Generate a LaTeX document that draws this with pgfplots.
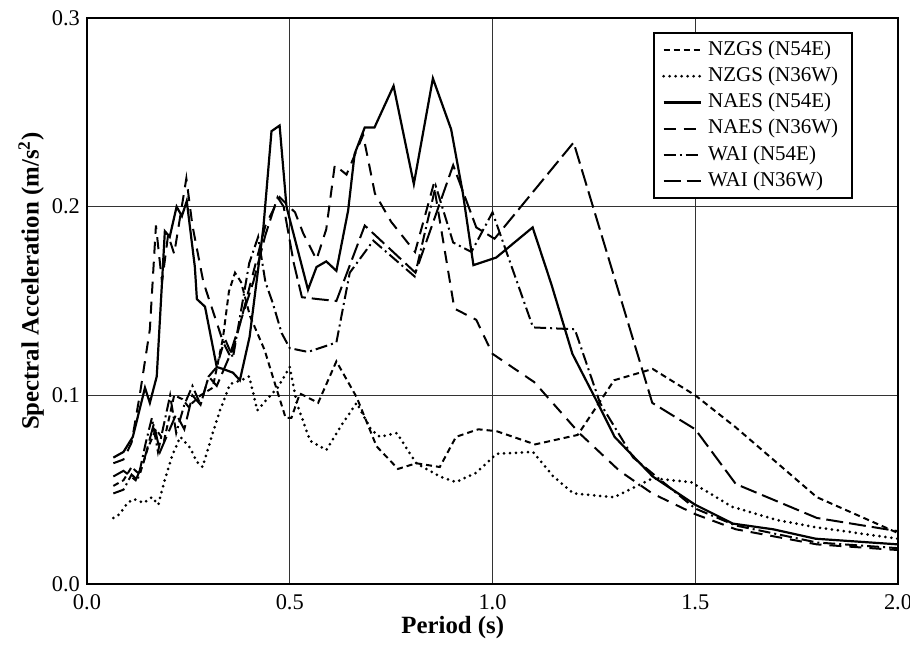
\documentclass[border=0pt]{standalone}
\usepackage{fontspec}
\setmainfont{Liberation Serif}
\usepackage{pgfplots}
\pgfplotsset{compat=1.18}

\pgfplotsset{
  nzgsA/.style={black, line width=1pt, dash pattern=on 3pt off 2pt},
  nzgsB/.style={black, line width=1.5pt, line cap=round, dash pattern=on 0pt off 3pt},
  naesA/.style={black, line width=1.1pt},
  naesB/.style={black, line width=1pt, dash pattern=on 6pt off 4pt},
  waiA/.style={black, line width=1pt, dash pattern=on 6pt off 2pt on 1pt off 2pt},
  waiB/.style={black, line width=1pt, dash pattern=on 8.5pt off 3pt},
}

\begin{document}
\begin{tikzpicture}[x=1pt,y=1pt]
\useasboundingbox (-43.5,-32.5) rectangle (411.5,292);
\begin{axis}[
  at={(0pt,0pt)}, anchor=south west,
  scale only axis, width=405.5pt, height=283pt,
  xmin=0, xmax=2, ymin=0, ymax=0.3,
  xtick={0,0.5,1,1.5,2}, ytick={0,0.1,0.2,0.3},
  scaled ticks=false,
  grid=major,
  major grid style={black!80, line width=0.5pt},
  axis line style={line width=1.1pt},
  major tick length=0pt,
  tick label style={font=\fontsize{11.2}{13}\selectfont},
  /pgf/number format/assume math mode=true,
  xticklabel style={/pgf/number format/fixed, /pgf/number format/fixed zerofill, /pgf/number format/precision=1, yshift=-2pt},
  yticklabel style={/pgf/number format/fixed, /pgf/number format/fixed zerofill, /pgf/number format/precision=1},
  xlabel={\textbf{Period (s)}},
  ylabel={\textbf{Spectral Acceleration (m/s\textsuperscript{2})}},
  label style={font=\fontsize{12.4}{14}\selectfont},
  xlabel style={at={(axis description cs:0.451,-0.0765)}, anchor=center},
  ylabel style={at={(axis description cs:-0.069,0.535)}, anchor=center},
  legend style={at={(axis description cs:0.9445,0.975)}, anchor=north east,
    draw=black, line width=0.8pt, fill=white,
    font=\fontsize{10.5}{12}\selectfont,
    cells={anchor=west}, inner xsep=4pt, inner ysep=2pt, row sep=0pt,
    nodes={inner ysep=1.2pt, inner xsep=3pt, text height=8pt, text depth=2.7pt}},
  legend image code/.code={\draw[#1] (0pt,0pt) -- (18.5pt,0pt);},
]

% NZGS (N54E)
\addplot[nzgsA] table {
0.065 0.052
0.09 0.055
0.11 0.062
0.13 0.058
0.15 0.072
0.17 0.082
0.19 0.076
0.215 0.100
0.235 0.098
0.25 0.094
0.28 0.100
0.31 0.104
0.335 0.130
0.35 0.155
0.365 0.165
0.38 0.160
0.402 0.142
0.438 0.124
0.468 0.103
0.49 0.088
0.504 0.088
0.525 0.101
0.57 0.096
0.615 0.118
0.665 0.099
0.714 0.073
0.767 0.061
0.812 0.064
0.87 0.062
0.91 0.078
0.965 0.082
1.01 0.081
1.105 0.074
1.21 0.079
1.30 0.108
1.395 0.114
1.50 0.100
1.60 0.083
1.80 0.046
2.00 0.027
};
\addlegendentry{NZGS (N54E)}

% NZGS (N36W)
\addplot[nzgsB] table {
0.065 0.035
0.08 0.037
0.10 0.043
0.115 0.045
0.14 0.043
0.16 0.046
0.176 0.042
0.19 0.054
0.21 0.068
0.23 0.078
0.255 0.072
0.27 0.065
0.285 0.062
0.31 0.080
0.328 0.092
0.353 0.106
0.38 0.108
0.40 0.110
0.42 0.092
0.44 0.097
0.47 0.104
0.50 0.115
0.517 0.096
0.55 0.076
0.59 0.071
0.63 0.085
0.665 0.096
0.70 0.082
0.722 0.078
0.764 0.080
0.812 0.064
0.87 0.057
0.91 0.054
0.96 0.059
1.01 0.069
1.10 0.070
1.15 0.057
1.20 0.048
1.30 0.046
1.395 0.056
1.49 0.054
1.59 0.041
1.70 0.034
1.80 0.030
2.00 0.024
};
\addlegendentry{NZGS (N36W)}

% NAES (N54E)
\addplot[naesA] table {
0.065 0.067
0.09 0.070
0.113 0.078
0.143 0.104
0.155 0.096
0.172 0.110
0.192 0.187
0.204 0.184
0.221 0.200
0.234 0.195
0.246 0.203
0.266 0.168
0.271 0.151
0.291 0.147
0.320 0.115
0.335 0.114
0.360 0.112
0.377 0.108
0.401 0.131
0.435 0.189
0.455 0.240
0.475 0.243
0.492 0.200
0.545 0.156
0.566 0.168
0.590 0.171
0.615 0.166
0.644 0.198
0.660 0.228
0.685 0.242
0.709 0.242
0.756 0.264
0.806 0.212
0.853 0.268
0.898 0.241
0.927 0.207
0.953 0.169
1.009 0.173
1.099 0.189
1.145 0.159
1.197 0.122
1.264 0.094
1.301 0.078
1.395 0.057
1.500 0.042
1.593 0.032
1.692 0.029
1.797 0.024
2.000 0.021
};
\addlegendentry{NAES (N54E)}

% NAES (N36W)
\addplot[naesB] table {
0.065 0.064
0.09 0.066
0.11 0.075
0.13 0.100
0.155 0.135
0.17 0.190
0.185 0.160
0.20 0.185
0.215 0.175
0.245 0.215
0.26 0.190
0.287 0.160
0.31 0.145
0.336 0.128
0.355 0.120
0.38 0.140
0.41 0.165
0.44 0.190
0.475 0.205
0.513 0.197
0.533 0.186
0.566 0.172
0.59 0.188
0.611 0.222
0.64 0.217
0.681 0.238
0.71 0.207
0.75 0.192
0.809 0.176
0.855 0.212
0.906 0.146
0.96 0.140
0.98 0.131
1.00 0.122
1.103 0.107
1.214 0.080
1.313 0.060
1.394 0.048
1.50 0.037
1.60 0.029
1.80 0.021
2.00 0.018
};
\addlegendentry{NAES (N36W)}

% WAI (N54E)
\addplot[waiA] table {
0.065 0.048
0.09 0.050
0.11 0.058
0.125 0.055
0.145 0.075
0.16 0.088
0.175 0.070
0.19 0.085
0.205 0.100
0.22 0.080
0.24 0.095
0.26 0.105
0.28 0.095
0.30 0.110
0.32 0.115
0.34 0.130
0.36 0.120
0.38 0.145
0.40 0.170
0.422 0.184
0.44 0.160
0.458 0.149
0.48 0.133
0.50 0.125
0.545 0.123
0.615 0.128
0.648 0.165
0.706 0.182
0.808 0.163
0.86 0.211
0.903 0.181
0.948 0.176
1.00 0.197
1.10 0.136
1.203 0.135
1.265 0.096
1.347 0.067
1.50 0.040
1.60 0.031
1.80 0.022
2.00 0.019
};
\addlegendentry{WAI (N54E)}

% WAI (N36W)
\addplot[waiB] table {
0.065 0.057
0.09 0.060
0.12 0.055
0.14 0.065
0.165 0.085
0.18 0.070
0.20 0.080
0.22 0.090
0.24 0.082
0.26 0.100
0.28 0.095
0.30 0.110
0.32 0.105
0.35 0.120
0.38 0.140
0.41 0.160
0.44 0.185
0.47 0.205
0.485 0.200
0.51 0.170
0.53 0.152
0.57 0.151
0.615 0.150
0.685 0.190
0.81 0.165
0.903 0.222
0.96 0.189
1.005 0.183
1.20 0.234
1.394 0.096
1.50 0.082
1.60 0.053
1.80 0.035
2.00 0.028
};
\addlegendentry{WAI (N36W)}

\end{axis}
\end{tikzpicture}
\end{document}
